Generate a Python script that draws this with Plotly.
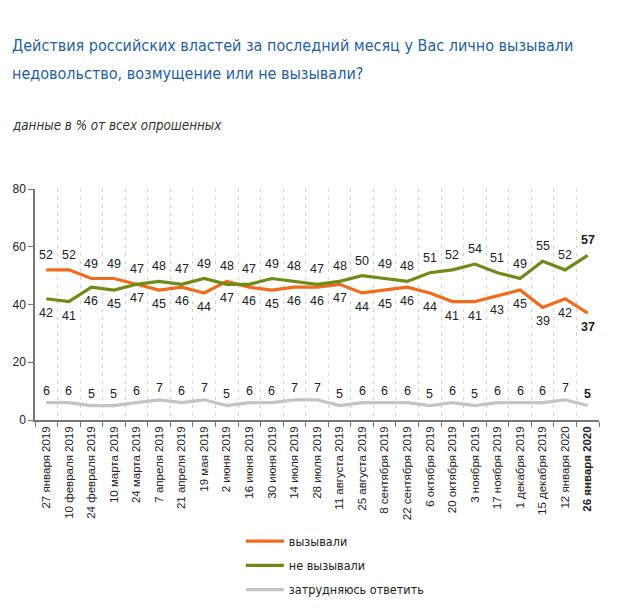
import plotly.graph_objects as go

dates = ["27 января 2019", "10 февраля 2019", "24 февраля 2019", "10 марта 2019",
         "24 марта 2019", "7 апреля 2019", "21 апреля 2019", "19 мая 2019",
         "2 июня 2019", "16 июня 2019", "30 июня 2019", "14 июля 2019",
         "28 июля 2019", "11 августа 2019", "25 августа 2019", "8 сентября 2019",
         "22 сентября 2019", "6 октября 2019", "20 октября 2019", "3 ноября 2019",
         "17 ноября 2019", "1 декабря 2019", "15 декабря 2019", "12 января 2020",
         "26 января 2020"]
vyzyvali = [52, 52, 49, 49, 47, 45, 46, 44, 48, 46, 45, 46, 46, 47, 44, 45, 46, 44,
            41, 41, 43, 45, 39, 42, 37]
ne_vyzyvali = [42, 41, 46, 45, 47, 48, 47, 49, 47, 47, 49, 48, 47, 48, 50, 49, 48, 51,
               52, 54, 51, 49, 55, 52, 57]
zatrud = [6, 6, 5, 5, 6, 7, 6, 7, 5, 6, 6, 7, 7, 5, 6, 6, 6, 5, 6, 5, 6, 6, 6, 7, 5]

series_names = ["вызывали", "не вызывали", "затрудняюсь ответить"]
colors = ["#F26A1B", "#6E8A17", "#C4C4C4"]

title_lines = ["Действия российских властей за последний месяц у Вас лично вызывали",
               "недовольство, возмущение или не вызывали?"]
subtitle = "данные в % от всех опрошенных"

ticktext = dates[:-1] + ["<b>" + dates[-1] + "</b>"]

COND = "DejaVu Sans Condensed, Liberation Sans Narrow, Liberation Sans, sans-serif"
FONT = "Liberation Sans, Arial, sans-serif"

fig = go.Figure()
for name, vals, col in zip(series_names, [vyzyvali, ne_vyzyvali, zatrud], colors):
    fig.add_trace(go.Scatter(x=dates, y=vals, mode="lines", name=name, legendgroup=name,
                             line=dict(color=col, width=3.2), hoverinfo="skip"))

annotations = []
label_font = dict(family=FONT, size=12.5, color="#222")
n = len(dates)
for i, d in enumerate(dates):
    o, g, z = vyzyvali[i], ne_vyzyvali[i], zatrud[i]
    bold = i == n - 1
    if o > g:
        top, bot = o, g
    else:
        top, bot = g, o
    for val, shift in [(top, 15), (bot, -14), (z, 12)]:
        txt = f"<b>{val}</b>" if bold else str(val)
        annotations.append(dict(x=d, y=val, text=txt, showarrow=False, yshift=shift,
                                font=label_font, xanchor="center", yanchor="middle"))

XL = -0.0443
for line, yy in zip(title_lines, [1.623, 1.502]):
    annotations.append(dict(xref="paper", yref="paper", x=XL, y=yy, text=line,
                            showarrow=False, xanchor="left", yanchor="middle",
                            font=dict(family=COND, size=16, color="#1F5FA3")))
annotations.append(dict(xref="paper", yref="paper", x=XL, y=1.277,
                        text="<i>" + subtitle + "</i>", showarrow=False,
                        xanchor="left", yanchor="middle",
                        font=dict(family=COND, size=13.3, color="#333")))

fig.update_layout(
    width=612, height=603,
    margin=dict(l=27, r=21, t=181, b=191, autoexpand=False),
    paper_bgcolor="white", plot_bgcolor="white",
    showlegend=True,
    legend=dict(x=0.365, y=-0.461, xanchor="left", yanchor="top",
                font=dict(family=COND, size=12.5, color="#222"), tracegroupgap=5,
                itemwidth=38, bgcolor="rgba(0,0,0,0)"),
    annotations=annotations,
)
fig.update_xaxes(type="category", tickmode="array", tickvals=dates, ticktext=ticktext,
                 tickangle=-90, tickson="boundaries", ticks="outside", ticklen=5,
                 tickcolor="#777", showline=True, linecolor="#777", linewidth=1.5,
                 showgrid=True, gridcolor="#CFCFCF", griddash="3px,5px", gridwidth=1,
                 tickfont=dict(family=FONT, size=11.5, color="#222"),
                 range=[-0.5, n - 0.5])
fig.update_yaxes(range=[0, 80], tickvals=[0, 20, 40, 60, 80], ticks="outside", ticklen=5,
                 tickcolor="#777", showline=True, linecolor="#777", linewidth=1.5,
                 showgrid=False, zeroline=False,
                 tickfont=dict(family=FONT, size=12, color="#222"))

fig.write_html("out.html")
